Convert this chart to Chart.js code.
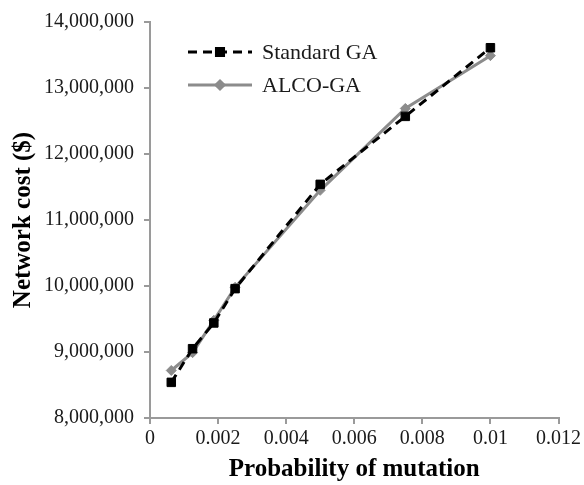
<!DOCTYPE html>
<html>
<head>
<meta charset="utf-8">
<script src="https://cdn.jsdelivr.net/npm/chart.js@4.4.1/dist/chart.umd.min.js"></script>
<style>
	body { margin: 0; background: #ffffff; }
	#wrap { width: 584px; height: 485px; }
</style>
</head>
<body>
<div id="wrap"><canvas id="myChart"></canvas></div>
<script>
// values
const mutationProb = [0.000625, 0.00125, 0.001875, 0.0025, 0.005, 0.0075, 0.01];
const standardGA = [8540000, 9050000, 9440000, 9960000, 11540000, 12570000, 13610000];
const alcoGA = [8720000, 8990000, 9480000, 9980000, 11450000, 12690000, 13490000];

const xTickLabels = ['0', '0.002', '0.004', '0.006', '0.008', '0.01', '0.012'];
const yTickLabels = ['8,000,000', '9,000,000', '10,000,000', '11,000,000', '12,000,000', '13,000,000', '14,000,000'];

const serif = "'Liberation Serif', 'Times New Roman', serif";

function toPoints(xs, ys) {
	const pts = [];
	for (let i = 0; i < xs.length; i++) {
		pts.push({ x: xs[i], y: ys[i] });
	}
	return pts;
}

// legend drawn inside the plot, top left
const insideLegend = {
	id: 'insideLegend',
	afterDraw: (chart) => {
		const { ctx } = chart;
		const x0 = 188, x1 = 252, tx = 262;
		const rows = [52, 85];
		ctx.save();
		chart.data.datasets.forEach((ds, i) => {
			const y = rows[i];
			ctx.strokeStyle = ds.borderColor;
			ctx.lineWidth = ds.borderWidth;
			ctx.setLineDash(ds.borderDash || []);
			ctx.beginPath();
			ctx.moveTo(x0, y);
			ctx.lineTo(x1, y);
			ctx.stroke();
			ctx.setLineDash([]);
			ctx.fillStyle = ds.backgroundColor;
			ctx.strokeStyle = ds.borderColor;
			Chart.helpers.drawPoint(ctx, {
				pointStyle: ds.pointStyle,
				radius: ds.pointRadius - 1,
				rotation: 0,
				borderWidth: 1
			}, (x0 + x1) / 2, y);
			ctx.fillStyle = '#1a1a1a';
			ctx.font = '22px ' + serif;
			ctx.textBaseline = 'middle';
			ctx.fillText(ds.label, tx, y + 1);
		});
		ctx.restore();
	}
};

const ctx = document.getElementById('myChart').getContext('2d');

const plotData = {
	datasets: [{
		label: 'Standard GA',
		data: toPoints(mutationProb, standardGA),
		borderColor: '#000000',
		backgroundColor: '#000000',
		borderWidth: 3,
		borderDash: [9, 6],
		pointStyle: 'rect',
		pointRadius: 6,
		pointBorderWidth: 1,
		tension: 0
	}, {
		label: 'ALCO-GA',
		data: toPoints(mutationProb, alcoGA),
		borderColor: '#8c8c8c',
		backgroundColor: '#8c8c8c',
		borderWidth: 3,
		pointStyle: 'rectRot',
		pointRadius: 5,
		pointBorderWidth: 1,
		tension: 0
	}]
};

const config = {
	type: 'line',
	data: plotData,
	options: {
		responsive: true,
		maintainAspectRatio: false,
		animation: false,
		layout: {
			padding: { top: 19, right: 25, bottom: 0, left: 0 }
		},
		scales: {
			x: {
				type: 'linear',
				min: 0,
				max: 0.012,
				afterFit: (scale) => { scale.height = 67; },
				afterBuildTicks: (scale) => {
					scale.ticks = xTickLabels.map((t, i) => ({ value: i * 0.002 }));
				},
				ticks: {
					color: '#1a1a1a',
					font: { family: serif, size: 20 },
					padding: 3,
					maxRotation: 0,
					autoSkip: false,
					callback: (value, index) => xTickLabels[index]
				},
				grid: {
					drawOnChartArea: false,
					drawTicks: true,
					tickLength: 6,
					color: '#9a9a9a',
					lineWidth: 2
				},
				border: { display: true, color: '#9a9a9a', width: 2 },
				title: {
					display: true,
					text: 'Probability of mutation',
					color: '#000000',
					font: { family: serif, size: 25, weight: 'bold' },
					padding: { top: -3, bottom: 0 }
				}
			},
			y: {
				min: 8000000,
				max: 14000000,
				afterFit: (scale) => { scale.width = 150; },
				afterBuildTicks: (scale) => {
					scale.ticks = yTickLabels.map((t, i) => ({ value: 8000000 + i * 1000000 }));
				},
				ticks: {
					color: '#1a1a1a',
					font: { family: serif, size: 20 },
					padding: 10,
					autoSkip: false,
					callback: (value, index) => yTickLabels[index]
				},
				grid: {
					drawOnChartArea: false,
					drawTicks: true,
					tickLength: 6,
					color: '#9a9a9a',
					lineWidth: 2
				},
				border: { display: true, color: '#9a9a9a', width: 2 },
				title: {
					display: true,
					text: 'Network cost ($)',
					color: '#000000',
					font: { family: serif, size: 25, weight: 'bold' },
					padding: { top: 9, bottom: 0 }
				}
			}
		},
		plugins: {
			legend: { display: false },
			tooltip: { enabled: false }
		}
	},
	plugins: [insideLegend]
};

const myChart = new Chart(ctx, config);
</script>
</body>
</html>
